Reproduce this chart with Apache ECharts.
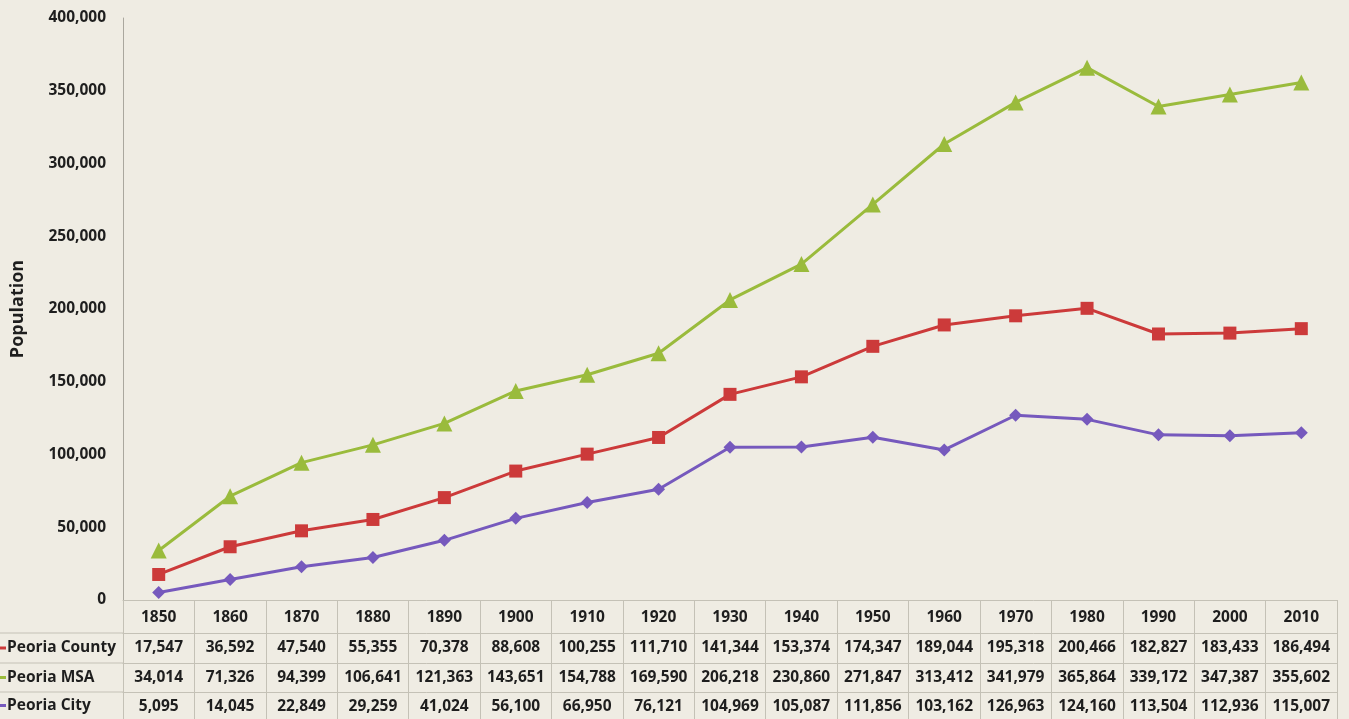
<!DOCTYPE html>
<html>
<head>
<meta charset="utf-8">
<script src="https://cdn.jsdelivr.net/npm/echarts@6/dist/echarts.min.js"></script>
<style>
  html, body { margin: 0; padding: 0; background: #efece3; }
  #chart { width: 1349px; height: 719px; }
</style>
</head>
<body>
<div id="chart"></div>
<script>
// Census years (table header / category axis)
const years = ['1850', '1860', '1870', '1880', '1890', '1900', '1910', '1920', '1930',
               '1940', '1950', '1960', '1970', '1980', '1990', '2000', '2010'];

// Population by year
const peoriaCounty = [17547, 36592, 47540, 55355, 70378, 88608, 100255, 111710, 141344,
                      153374, 174347, 189044, 195318, 200466, 182827, 183433, 186494];
const peoriaMSA = [34014, 71326, 94399, 106641, 121363, 143651, 154788, 169590, 206218,
                   230860, 271847, 313412, 341979, 365864, 339172, 347387, 355602];
const peoriaCity = [5095, 14045, 22849, 29259, 41024, 56100, 66950, 76121, 104969,
                    105087, 111856, 103162, 126963, 124160, 113504, 112936, 115007];

// Value axis ticks
const yTicks = [0, 50000, 100000, 150000, 200000, 250000, 300000, 350000, 400000];

const seriesNames = ['Peoria County', 'Peoria MSA', 'Peoria City'];
const seriesColors = ['#cc3a3a', '#9abb3c', '#7659bd'];
const seriesValues = [peoriaCounty, peoriaMSA, peoriaCity];
const seriesSymbols = ['rect', 'triangle', 'diamond'];
const seriesSymbolSizes = [13, 16, 13];

const FONT = '"Open Sans", "Liberation Sans", sans-serif';
const TEXT = '#1e1e1e';
const TABLE_LINE = '#c4c1b6';
const fmt = v => v.toLocaleString('en-US');

// grid edges
const GRID_LEFT = 123, GRID_RIGHT = 12, GRID_TOP = 18, GRID_BOTTOM = 119;
const AXIS_Y = 719 - GRID_BOTTOM;           // 600
const rowOffsets = [33, 63, 92];             // table rows below the header row

const chart = echarts.init(document.getElementById('chart'));

const labelStyle = { color: TEXT, fontFamily: FONT, fontWeight: 700, fontSize: 15.5 };

const xAxes = [{
  type: 'category',
  data: years,
  position: 'bottom',
  boundaryGap: true,
  axisLine: { show: true, lineStyle: { color: TABLE_LINE, width: 1 } },
  axisTick: { show: true, interval: 0, length: 119, lineStyle: { color: TABLE_LINE, width: 1 } },
  axisLabel: Object.assign({ interval: 0, margin: 10 }, labelStyle),
  splitLine: { show: false }
}];
seriesValues.forEach((vals, i) => {
  xAxes.push({
    type: 'category',
    data: vals.map(fmt),
    position: 'bottom',
    offset: rowOffsets[i],
    boundaryGap: true,
    axisLine: { show: true, lineStyle: { color: TABLE_LINE, width: 1 } },
    axisTick: { show: false },
    axisLabel: Object.assign({ interval: 0, margin: 7 }, labelStyle),
    splitLine: { show: false }
  });
});

// row labels with small legend keys, plus row rules across the label column
const graphics = [];
seriesNames.forEach((name, i) => {
  const top = AXIS_Y + rowOffsets[i];
  const bottom = i < 2 ? AXIS_Y + rowOffsets[i + 1] : 719;
  const mid = (top + bottom) / 2;
  graphics.push({
    type: 'line',
    shape: { x1: 0, y1: top, x2: GRID_LEFT, y2: top },
    style: { stroke: TABLE_LINE, lineWidth: 1 },
    silent: true
  });
  graphics.push({
    type: 'rect',
    shape: { x: 0, y: mid - 1.5, width: 6, height: 3 },
    style: { fill: seriesColors[i] },
    silent: true
  });
  graphics.push({
    type: 'text',
    x: 7, y: mid,
    style: {
      text: name, fill: TEXT, font: '700 15.5px ' + FONT,
      verticalAlign: 'middle', align: 'left'
    },
    silent: true
  });
});

chart.setOption({
  animation: false,
  backgroundColor: '#efece3',
  grid: { left: GRID_LEFT, right: GRID_RIGHT, top: GRID_TOP, bottom: GRID_BOTTOM, containLabel: false },
  xAxis: xAxes,
  yAxis: {
    type: 'value',
    min: yTicks[0],
    max: yTicks[yTicks.length - 1],
    interval: yTicks[1] - yTicks[0],
    name: 'Population',
    nameLocation: 'middle',
    nameGap: 96,
    nameTextStyle: { color: TEXT, fontFamily: FONT, fontWeight: 700, fontSize: 18 },
    axisLine: { show: true, lineStyle: { color: '#aaa79e', width: 1 } },
    axisTick: { show: false },
    splitLine: { show: false },
    axisLabel: Object.assign({ margin: 17, formatter: v => fmt(v) }, labelStyle)
  },
  series: seriesValues.map((vals, i) => ({
    name: seriesNames[i],
    type: 'line',
    xAxisIndex: 0,
    data: vals,
    symbol: seriesSymbols[i],
    symbolSize: seriesSymbolSizes[i],
    showAllSymbol: true,
    lineStyle: { color: seriesColors[i], width: 3 },
    itemStyle: { color: seriesColors[i] },
    z: 3 - i
  })),
  graphic: graphics
});
</script>
</body>
</html>
